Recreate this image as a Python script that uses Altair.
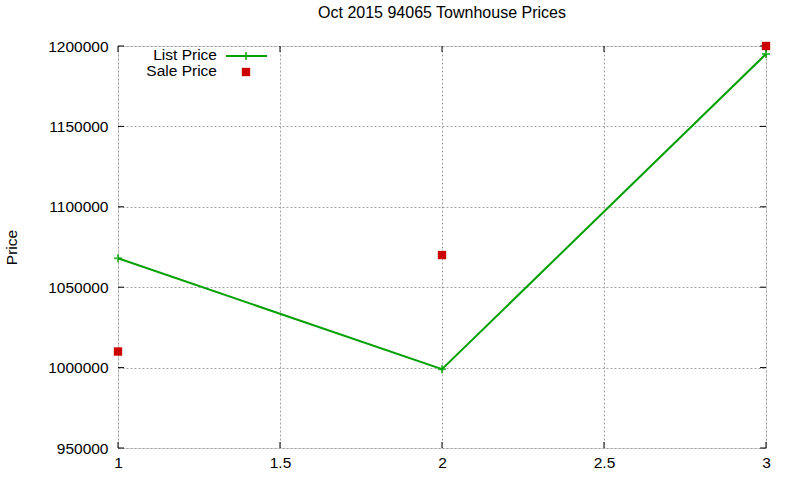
import altair as alt
import pandas as pd

x_vals = [1, 2, 3]
list_price = [1068000, 999000, 1195000]
sale_price = [1010000, 1070000, 1200000]
x_ticks = [1, 1.5, 2, 2.5, 3]
y_ticks = [950000, 1000000, 1050000, 1100000, 1150000, 1200000]

df = pd.DataFrame({"x": x_vals, "list": list_price, "sale": sale_price})

FONT = "Liberation Sans"
GREEN = "#00a000"
RED = "#cc0000"
PLUS = "M-1,0H1M0,-1V1"
FS = 15.5
W, H = 648, 402
TL = 6

xs = alt.Scale(domain=[1, 3], nice=False, zero=False)
ys = alt.Scale(domain=[950000, 1200000], nice=False, zero=False)

xaxis = alt.Axis(values=x_ticks, format="~g", title=None,
                 grid=True, gridDash=[2, 2], gridColor="#a0a0a0", gridWidth=1,
                 domain=False, ticks=False, labelPadding=7, labelFlush=False,
                 labelFont=FONT, labelFontSize=FS, labelColor="black")
yaxis = alt.Axis(values=y_ticks,
                 format="d", title="Price", titleFont=FONT, titleFontSize=FS,
                 titleFontWeight="normal", titleColor="black", titlePadding=28,
                 grid=True, gridDash=[2, 2], gridColor="#a0a0a0", gridWidth=1,
                 domain=False, ticks=False, labelPadding=10, labelFlush=False,
                 labelFont=FONT, labelFontSize=FS, labelColor="black")

base = alt.Chart(df)

line = base.mark_line(color=GREEN, strokeWidth=2, clip=False).encode(
    x=alt.X("x:Q", scale=xs, axis=xaxis),
    y=alt.Y("list:Q", scale=ys, axis=yaxis),
)
pts = base.mark_point(shape=PLUS, color=GREEN, strokeWidth=2, size=64, filled=False, clip=False).encode(
    x=alt.X("x:Q", scale=xs), y=alt.Y("list:Q", scale=ys)
)
sale = base.mark_point(shape="square", color=RED, filled=True, size=70, opacity=1, clip=False).encode(
    x=alt.X("x:Q", scale=xs), y=alt.Y("sale:Q", scale=ys)
)

# inward, mirrored tick marks (gnuplot style)
xt = pd.DataFrame({"t": x_ticks})
yt = pd.DataFrame({"t": y_ticks})
xt_bot = alt.Chart(xt).mark_rule(color="black", strokeWidth=1).encode(
    x=alt.X("t:Q", scale=xs), y=alt.value(H), y2=alt.value(H - TL))
xt_top = alt.Chart(xt).mark_rule(color="black", strokeWidth=1).encode(
    x=alt.X("t:Q", scale=xs), y=alt.value(0), y2=alt.value(TL))
yt_left = alt.Chart(yt).mark_rule(color="black", strokeWidth=1).encode(
    y=alt.Y("t:Q", scale=ys), x=alt.value(0), x2=alt.value(TL))
yt_right = alt.Chart(yt).mark_rule(color="black", strokeWidth=1).encode(
    y=alt.Y("t:Q", scale=ys), x=alt.value(W), x2=alt.value(W - TL))

leg_text = alt.Chart(pd.DataFrame({"name": ["List Price"]})).mark_text(
    align="right", baseline="middle", font=FONT, fontSize=FS, color="black"
).encode(text="name:N", x=alt.value(99), y=alt.value(9))
leg_text2 = alt.Chart(pd.DataFrame({"name": ["Sale Price"]})).mark_text(
    align="right", baseline="middle", font=FONT, fontSize=FS, color="black"
).encode(text="name:N", x=alt.value(99), y=alt.value(25))
leg_line = alt.Chart(pd.DataFrame({"a": [0]})).mark_rule(color=GREEN, strokeWidth=2).encode(
    x=alt.value(108), x2=alt.value(149), y=alt.value(10)
)
leg_plus = alt.Chart(pd.DataFrame({"a": [0]})).mark_point(
    shape=PLUS, color=GREEN, strokeWidth=2, size=64, filled=False
).encode(x=alt.value(128), y=alt.value(10))
leg_sq = alt.Chart(pd.DataFrame({"a": [0]})).mark_point(
    shape="square", color=RED, filled=True, size=70, opacity=1
).encode(x=alt.value(128), y=alt.value(26))

chart = alt.layer(
    xt_bot, xt_top, yt_left, yt_right,
    line, pts, sale, leg_line, leg_plus, leg_sq, leg_text, leg_text2
).properties(
    width=W, height=H,
    title=alt.Title("Oct 2015 94065 Townhouse Prices", font=FONT, fontSize=16,
                    fontWeight="normal", color="black", offset=18),
    autosize=alt.AutoSizeParams(type="none"),
    padding={"left": 118, "top": 46, "right": 34, "bottom": 32},
).configure_view(stroke="black", strokeWidth=1).configure(background="white")

chart.save("out.html", embed_options={"renderer": "svg", "actions": False})
